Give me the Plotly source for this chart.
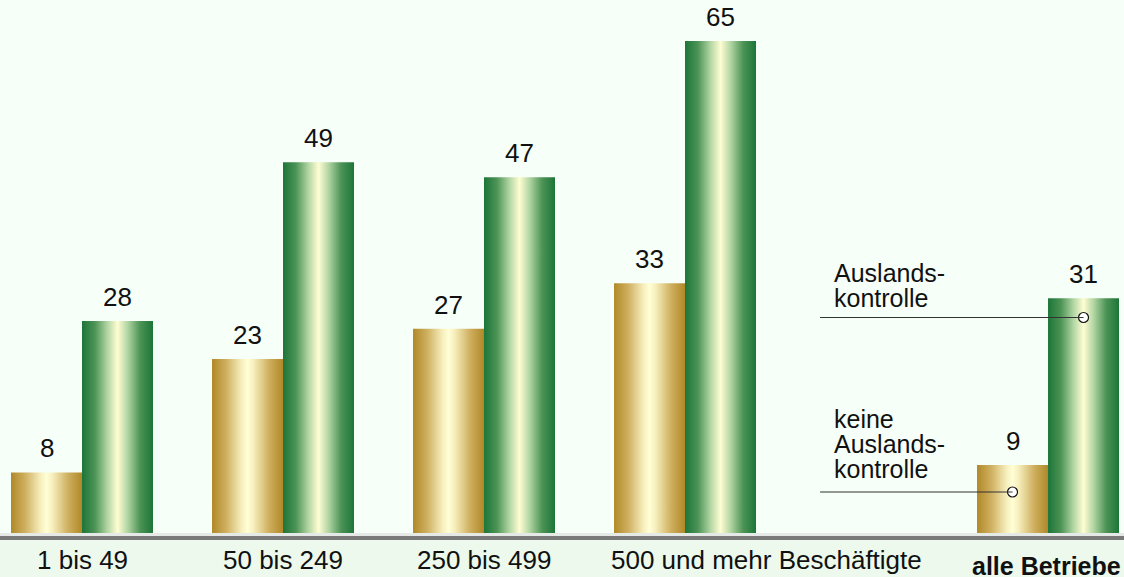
import plotly.graph_objects as go

# ---- data ----
groups = ["1 bis 49", "50 bis 249", "250 bis 499", "500 und mehr Beschäftigte", "alle Betriebe"]
keine_auslandskontrolle = [8, 23, 27, 33, 9]
auslandskontrolle = [28, 49, 47, 65, 31]
legend_keine = ["keine", "Auslands-", "kontrolle"]
legend_ausland = ["Auslands-", "kontrolle"]

# ---- layout constants ----
W, H = 1124, 577
BASE = 533            # pixel of the baseline
YMAX = 70.42
group_pos = [0, 1, 2, 3, 4.806]
BW = 0.3532
FONT = "Liberation Sans, Arial, sans-serif"
FS = 26

gold_scale = [[0.0, "#b08828"], [0.2, "#cfb060"], [0.42, "#f7f0bf"], [0.5, "#fffed4"],
              [0.58, "#f7f0bf"], [0.8, "#cfb060"], [1.0, "#b08828"]]
green_scale = [[0.0, "#1d7538"], [0.18, "#4c9356"], [0.36, "#b3d6a4"], [0.5, "#fffdd2"],
               [0.64, "#b3d6a4"], [0.82, "#4c9356"], [1.0, "#1d7538"]]

fig = go.Figure()

def add_bar(x0, x1, v, scale):
    fig.add_trace(go.Scatter(
        x=[x0, x0, x1, x1, x0], y=[0, v, v, 0, 0],
        mode="lines", line=dict(width=0), fill="toself",
        fillgradient=dict(type="horizontal", colorscale=scale),
        hoverinfo="skip", showlegend=False))

ann = []
for c, k, a in zip(group_pos, keine_auslandskontrolle, auslandskontrolle):
    add_bar(c - BW, c, k, gold_scale)
    add_bar(c, c + BW, a, green_scale)
    for xc, v in ((c - BW / 2, k), (c + BW / 2, a)):
        ann.append(dict(x=xc, y=v, xref="x", yref="y", text=str(v), showarrow=False,
                        xanchor="center", yanchor="bottom", yshift=7,
                        font=dict(family=FONT, size=FS, color="#111")))

# category labels
for i, (g, c) in enumerate(zip(groups, group_pos)):
    if i == 3:
        ann.append(dict(x=c - 0.378, y=0, xref="x", yref="paper", text=g, showarrow=False,
                        xanchor="left", yanchor="bottom", yshift=-(571 + 6 - BASE),
                        font=dict(family=FONT, size=FS, color="#111")))
    elif i == 4:
        ann.append(dict(x=c - 0.01, y=0, xref="x", yref="paper", text="<b>" + g + "</b>",
                        showarrow=False, xanchor="center", yanchor="bottom",
                        yshift=-(576 + 6 - BASE),
                        font=dict(family=FONT, size=FS - 1, color="#111")))
    else:
        ann.append(dict(x=c, y=0, xref="x", yref="paper", text=g, showarrow=False,
                        xanchor="center", yanchor="bottom", yshift=-(571 + 6 - BASE),
                        font=dict(family=FONT, size=FS, color="#111")))

# legend-like labels with leader lines
c5 = group_pos[4]
LX0 = 3.672
TX = 3.73
aus_line_y = (BASE - 317.5) / (BASE / YMAX)
kei_line_y = (BASE - 492) / (BASE / YMAX)
for txt, base in zip(legend_ausland, [283, 308]):
    ann.append(dict(x=TX, y=0, xref="x", yref="paper", text=txt, showarrow=False,
                    xanchor="left", yanchor="bottom", yshift=BASE - (base + 6),
                    font=dict(family=FONT, size=FS - 1, color="#111")))
for txt, base in zip(legend_keine, [429, 454, 479]):
    ann.append(dict(x=TX, y=0, xref="x", yref="paper", text=txt, showarrow=False,
                    xanchor="left", yanchor="bottom", yshift=BASE - (base + 6),
                    font=dict(family=FONT, size=FS - 1, color="#111")))

shapes = [
    dict(type="rect", xref="paper", yref="paper", x0=0, x1=1, y0=-3 / BASE, y1=0,
         fillcolor="#e6eae6", line=dict(width=0), layer="below"),
    dict(type="rect", xref="paper", yref="paper", x0=0, x1=1, y0=-7 / BASE, y1=-3 / BASE,
         fillcolor="#7a7a7a", line=dict(width=0)),
    dict(type="rect", xref="paper", yref="paper", x0=0, x1=1, y0=-50 / BASE, y1=-7 / BASE,
         fillcolor="#ecf9ec", line=dict(width=0), layer="below"),
    dict(type="line", xref="x", yref="y", x0=LX0, x1=c5 + BW / 2, y0=aus_line_y, y1=aus_line_y,
         line=dict(color="#333", width=1.2)),
    dict(type="line", xref="x", yref="y", x0=LX0, x1=c5 - BW / 2, y0=kei_line_y, y1=kei_line_y,
         line=dict(color="#333", width=1.2)),
]

fig.add_trace(go.Scatter(
    x=[c5 + BW / 2, c5 - BW / 2], y=[aus_line_y, kei_line_y], mode="markers",
    marker=dict(symbol="circle", size=10, color="white", line=dict(color="#111", width=1.2)),
    hoverinfo="skip", showlegend=False))

fig.update_layout(
    width=W, height=H,
    margin=dict(l=0, r=0, t=0, b=H - BASE),
    paper_bgcolor="#f7fff9", plot_bgcolor="#f7fff9",
    xaxis=dict(range=[-0.408, 5.184], visible=False, fixedrange=True),
    yaxis=dict(range=[0, YMAX], visible=False, fixedrange=True),
    annotations=ann, shapes=shapes, showlegend=False,
)

fig.write_html("out.html", config={"displayModeBar": False},
               post_script="document.body.style.margin='0';document.body.style.overflow='hidden';")
